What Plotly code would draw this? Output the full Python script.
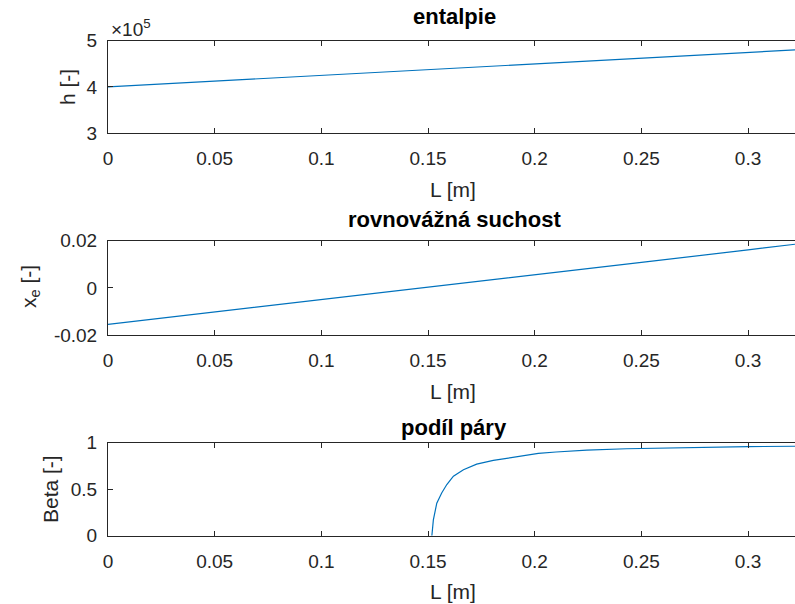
import plotly.graph_objects as go
from plotly.subplots import make_subplots

# ---- data ----
L_lin = [0.0, 0.05, 0.10, 0.15, 0.20, 0.25, 0.30, 0.322]
h_vals = [4.00e5, 4.125e5, 4.25e5, 4.375e5, 4.50e5, 4.625e5, 4.75e5, 4.80e5]
xe_vals = [-0.0155, -0.0103, -0.0050, 0.0003, 0.0056, 0.0108, 0.0161, 0.0185]

L_beta = [0.1518, 0.1525, 0.1541, 0.1564, 0.1588, 0.1619, 0.1666, 0.1728, 0.1806,
          0.1885, 0.1978, 0.2017, 0.210, 0.2244, 0.243, 0.274, 0.30, 0.322]
beta_vals = [0.0, 0.17, 0.35, 0.46, 0.55, 0.64, 0.71, 0.77, 0.81,
             0.84, 0.87, 0.885, 0.90, 0.92, 0.935, 0.95, 0.958, 0.962]

x_ticks = [0, 0.05, 0.1, 0.15, 0.2, 0.25, 0.3]
x_ticktext = ["0", "0.05", "0.1", "0.15", "0.2", "0.25", "0.3"]
titles = ["entalpie", "rovnovážná suchost", "podíl páry"]
ylabels = ["h [-]", "x<sub>e</sub> [-]", "Beta [-]"]
xlabel = "L [m]"

W, H = 795, 604
LEFT = 108
LINE = "#0072BD"
AX = "#262626"
FONT = "Liberation Sans, Arial, Helvetica, sans-serif"
TICK_FS = 19

fig = make_subplots(rows=3, cols=1)
fig.add_trace(go.Scatter(x=L_lin, y=h_vals, mode="lines", line=dict(color=LINE, width=1.2)), row=1, col=1)
fig.add_trace(go.Scatter(x=L_lin, y=xe_vals, mode="lines", line=dict(color=LINE, width=1.2)), row=2, col=1)
fig.add_trace(go.Scatter(x=L_beta, y=beta_vals, mode="lines", line=dict(color=LINE, width=1.2)), row=3, col=1)

# pixel positions of the axes boxes (top, bottom)
boxes = [(40.7, 133.0), (240.7, 335.0), (442.7, 535.7)]
xrange_ = [0, 0.322]

for i, (top, bot) in enumerate(boxes):
    r = i + 1
    dom = [1 - bot / H, 1 - top / H]
    fig.update_yaxes(domain=dom, row=r, col=1)
    fig.update_xaxes(range=xrange_, tickvals=x_ticks, ticktext=x_ticktext,
                     ticks="inside", ticklen=5, tickcolor=AX, tickwidth=1,
                     showline=True, linecolor=AX, linewidth=1, mirror="ticks",
                     showgrid=False, zeroline=False, ticklabelstandoff=8, automargin=False,
                     tickfont=dict(family=FONT, size=TICK_FS, color=AX), row=r, col=1)

yconf = [
    dict(range=[3e5, 5e5], tickvals=[3e5, 4e5, 5e5], ticktext=["3", "4", "5"]),
    dict(range=[-0.02, 0.02], tickvals=[-0.02, 0, 0.02], ticktext=["-0.02", "0", "0.02"]),
    dict(range=[0, 1], tickvals=[0, 0.5, 1], ticktext=["0", "0.5", "1"]),
]
for i, c in enumerate(yconf):
    fig.update_yaxes(**c, ticks="inside", ticklen=5, tickcolor=AX, tickwidth=1,
                     showline=True, linecolor=AX, linewidth=1, mirror=False,
                     showgrid=False, zeroline=False, ticklabelstandoff=6, automargin=False,
                     tickfont=dict(family=FONT, size=TICK_FS, color=AX), row=i + 1, col=1)

ann = []
title_y = [16, 219, 427]
xlabel_y = [189, 391, 591]
ylabel_pos = [(67, 87), (30, 287), (50, 489)]
for i in range(3):
    ann.append(dict(text="<b>" + titles[i] + "</b>", x=454, y=title_y[i],
                    font=dict(family=FONT, size=22, color="#000")))
    ann.append(dict(text=xlabel, x=453, y=xlabel_y[i],
                    font=dict(family=FONT, size=21, color=AX)))
    ann.append(dict(text=ylabels[i], x=ylabel_pos[i][0], y=ylabel_pos[i][1], textangle=-90,
                    font=dict(family=FONT, size=21, color=AX)))
ann.append(dict(text="×10<sup>5</sup>", x=109, y=28, xanchor="left",
                font=dict(family=FONT, size=19, color=AX)))

# convert pixel annotation coords to paper fractions
for a in ann:
    a["x"] = (a["x"] - LEFT) / (W - LEFT)
    a["y"] = 1 - a["y"] / H
    a["xref"] = "paper"
    a["yref"] = "paper"
    a["showarrow"] = False
    a.setdefault("xanchor", "center")
    a.setdefault("yanchor", "middle")

fig.update_layout(width=W, height=H, margin=dict(l=LEFT, r=0, t=0, b=0, pad=0, autoexpand=False),
                  plot_bgcolor="white", paper_bgcolor="white", showlegend=False,
                  annotations=ann)

fig.write_html("out.html", config={"displayModeBar": False},
               post_script="document.body.style.margin='0';document.body.style.overflow='hidden';")
